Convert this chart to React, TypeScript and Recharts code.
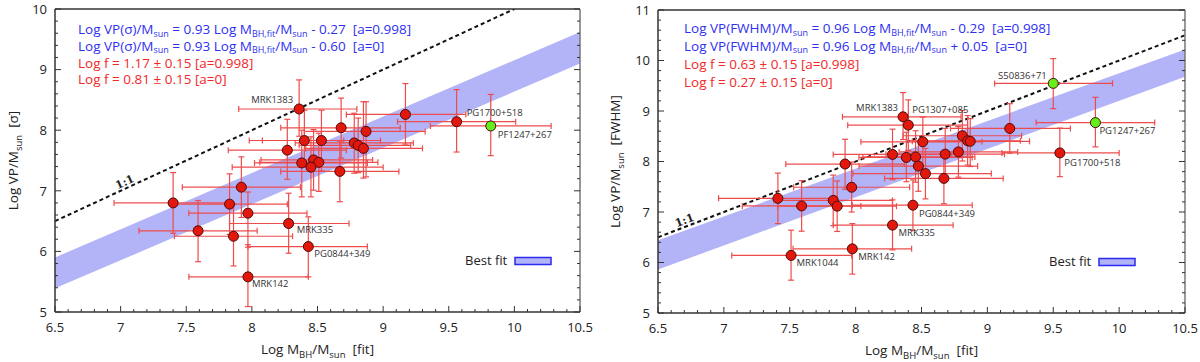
import React from "react";
import { Area, ComposedChart, ErrorBar, Line, ReferenceDot, Scatter, XAxis, YAxis } from "recharts";

type Pair = [number, number];

// ---- left panel: VP from sigma ----
const sigX = [8.36, 8.68, 8.87, 8.4, 8.53, 8.27, 8.78, 8.81, 8.85, 8.38, 8.47, 8.51, 8.45, 8.67, 7.92, 7.83, 7.97, 8.28, 9.17, 9.56, 9.82, 7.4, 7.59, 7.86, 7.97, 8.43];
const sigY = [8.35, 8.04, 7.98, 7.83, 7.83, 7.67, 7.79, 7.75, 7.7, 7.46, 7.51, 7.47, 7.39, 7.32, 7.06, 6.78, 6.63, 6.46, 8.26, 8.14, 8.07, 6.8, 6.34, 6.25, 5.58, 6.08];
const sigXErr: Pair[] = [
  [0.46, 0.44], [0.46, 0.45], [0.47, 0.45], [0.32, 0.3], [0.55, 0.45], [0.45, 0.45], [0.45, 0.45],
  [0.45, 0.4], [0.44, 0.45], [0.36, 0.5], [0.4, 0.45], [0.45, 0.45], [0.6, 0.55], [0.45, 0.45],
  [0.45, 0.45], [0.44, 0.44], [0.45, 0.45], [0.45, 0.46], [0.45, 0.46], [0.45, 0.45], [0.46, 0.46],
  [0.45, 0.45], [0.45, 0.45], [0.45, 0.45], [0.45, 0.46], [0.46, 0.45],
];
const sigYErr: Pair[] = [
  [0.45, 0.48], [0.5, 0.49], [0.75, 0.49], [0.35, 0.5], [0.5, 0.5], [0.48, 0.51], [0.5, 0.49],
  [0.45, 0.45], [0.49, 0.77], [0.56, 0.54], [0.5, 0.5], [0.48, 0.48], [0.49, 0.5], [0.5, 0.5],
  [0.5, 0.5], [0.5, 0.5], [0.56, 0.35], [0.49, 0.5], [0.49, 0.51], [0.5, 0.53], [0.49, 0.52],
  [0.5, 0.5], [0.51, 0.5], [0.49, 0.53], [0.49, 0.53], [0.5, 0.49],
];
const sigNames = [
  "MRK1383", "", "", "", "", "", "", "", "", "", "", "", "", "", "", "", "", "MRK335", "",
  "PG1700+518", "PF1247+267", "", "", "", "MRK142", "PG0844+349",
];
const sigGreen = ["PF1247+267"];
const sigBandX = [6.5, 10.5];
const sigBandLo = [5.39, 9.1];
const sigBandHi = [5.9, 9.62];
const sigOneX = [6.5, 10];

// ---- right panel: VP from FWHM ----
const fwhmX = [8.36, 8.4, 8.51, 8.81, 8.85, 8.87, 8.28, 8.385, 8.455, 8.476, 8.53, 8.68, 8.78, 8.67, 7.92, 7.97, 7.83, 7.86, 8.435, 8.28, 9.17, 9.55, 9.5, 9.82, 7.41, 7.59, 7.51, 7.975];
const fwhmY = [8.885, 8.72, 8.39, 8.51, 8.41, 8.4, 8.14, 8.08, 8.09, 7.91, 7.76, 8.146, 8.19, 7.665, 7.95, 7.49, 7.23, 7.115, 7.135, 6.74, 8.655, 8.17, 9.547, 8.77, 7.27, 7.12, 6.14, 6.27];
const fwhmXErr: Pair[] = [
  [0.46, 0.44], [0.46, 0.45], [0.47, 0.45], [0.45, 0.45], [0.45, 0.4], [0.44, 0.45], [0.45, 0.45],
  [0.36, 0.5], [0.4, 0.45], [0.45, 0.45], [0.55, 0.5], [0.45, 0.45], [0.45, 0.45], [0.45, 0.45],
  [0.45, 0.45], [0.44, 0.44], [0.45, 0.45], [0.45, 0.45], [0.46, 0.45], [0.45, 0.46], [0.45, 0.46],
  [0.44, 0.45], [0.445, 0.45], [0.45, 0.45], [0.45, 0.45], [0.45, 0.45], [0.45, 0.46], [0.45, 0.45],
];
const fwhmYErr: Pair[] = [
  [0.45, 0.48], [0.5, 0.5], [0.55, 0.49], [0.5, 0.5], [0.48, 0.5], [0.5, 0.45], [0.5, 0.5],
  [0.48, 0.5], [0.5, 0.52], [0.5, 0.5], [0.5, 0.5], [0.49, 0.51], [0.5, 0.5], [0.5, 0.5],
  [0.5, 0.49], [0.49, 0.5], [0.5, 0.5], [0.5, 0.5], [0.5, 0.5], [0.49, 0.5], [0.49, 0.49],
  [0.47, 0.49], [0.5, 0.49], [0.48, 0.5], [0.5, 0.5], [0.5, 0.5], [0.49, 0.5], [0.5, 0.5],
];
const fwhmNames = [
  "MRK1383", "PG1307+085", "", "", "", "", "", "", "", "", "", "", "", "", "", "", "", "",
  "PG0844+349", "MRK335", "", "PG1700+518", "S50836+71", "PG1247+267", "", "", "MRK1044", "MRK142",
];
const fwhmGreen = ["S50836+71", "PG1247+267"];
const fwhmBandX = [6.5, 10.5];
const fwhmBandLo = [5.86, 9.68];
const fwhmBandHi = [6.44, 10.22];
const fwhmOneX = [6.5, 10.5];

const xMajor = [6.5, 7, 7.5, 8, 8.5, 9, 9.5, 10, 10.5];
const sigYMajor = [5, 6, 7, 8, 9, 10];
const fwhmYMajor = [5, 6, 7, 8, 9, 10, 11];

type Part = [string, boolean];
type EqLine = { color: string; parts: Part[] };
const BLUE = "#2f2ff2";
const RED = "#f22828";

const sigEq: EqLine[] = [
  { color: BLUE, parts: [["Log VP(σ)/M", false], ["sun", true], [" = 0.93 Log M", false], ["BH,fit", true], ["/M", false], ["sun", true], [" - 0.27  [a=0.998]", false]] },
  { color: BLUE, parts: [["Log VP(σ)/M", false], ["sun", true], [" = 0.93 Log M", false], ["BH,fit", true], ["/M", false], ["sun", true], [" - 0.60  [a=0]", false]] },
  { color: RED, parts: [["Log f = 1.17 ± 0.15 [a=0.998]", false]] },
  { color: RED, parts: [["Log f = 0.81 ± 0.15 [a=0]", false]] },
];
const fwhmEq: EqLine[] = [
  { color: BLUE, parts: [["Log VP(FWHM)/M", false], ["sun", true], [" = 0.96 Log M", false], ["BH,fit", true], ["/M", false], ["sun", true], [" - 0.29  [a=0.998]", false]] },
  { color: BLUE, parts: [["Log VP(FWHM)/M", false], ["sun", true], [" = 0.96 Log M", false], ["BH,fit", true], ["/M", false], ["sun", true], [" + 0.05  [a=0]", false]] },
  { color: RED, parts: [["Log f = 0.63 ± 0.15 [a=0.998]", false]] },
  { color: RED, parts: [["Log f = 0.27 ± 0.15 [a=0]", false]] },
];

// label placement next to named points: dx, dy (baseline), anchor
type Place = Record<string, [number, number, "start" | "end"]>;
const sigPlace: Place = {
  MRK1383: [-6, -5.5, "end"],
  "PG1700+518": [10, -5.5, "start"],
  "PF1247+267": [7, 12.5, "start"],
  MRK335: [8, 9.5, "start"],
  "PG0844+349": [6, 10, "start"],
  MRK142: [4, 10.5, "start"],
};
const fwhmPlace: Place = {
  MRK1383: [-5, -6, "end"],
  "PG1307+085": [4, -12, "start"],
  "S50836+71": [-6.5, -4, "end"],
  "PG1247+267": [4, 11.5, "start"],
  "PG1700+518": [4.5, 13, "start"],
  "PG0844+349": [6, 12, "start"],
  MRK335: [6, 11, "start"],
  MRK142: [6, 11.5, "start"],
  MRK1044: [5.5, 10.2, "start"],
};

const FONT = "'Open Sans', 'DejaVu Sans', sans-serif";
const AXIS = "#333";
const BAR = "#ee4c4c";
const BAND = "#b3b3f8";

function steps(a: number, b: number, s: number) {
  const n = Math.round((b - a) / s);
  return Array.from({ length: n + 1 }, (_, i) => Math.round((a + i * s) * 100) / 100);
}
const isIn = (v: number, arr: number[]) => arr.some((m) => Math.abs(m - v) < 1e-6);

function richText(parts: Part[], base: number, sub: number, shift = 3) {
  let prev = false;
  return parts.map(([t, s], i) => {
    const dy = (s ? shift : 0) - (prev ? shift : 0);
    prev = s;
    return (
      <tspan key={i} dy={dy} fontSize={s ? sub : base}>
        {t}
      </tspan>
    );
  });
}

type PanelProps = {
  xs: number[]; ys: number[]; xErr: Pair[]; yErr: Pair[]; names: string[]; green: string[];
  bandX: number[]; bandLo: number[]; bandHi: number[]; oneX: number[];
  yDomain: [number, number]; yMajor: number[];
  eq: EqLine[]; eqDx: number; eqBase: number[]; yTitle: string; place: Place;
  onePos: [number, number]; oneAngle: number; legendDx: number;
  margin: { top: number; right: number; bottom: number; left: number };
  yAxisWidth: number; xAxisHeight: number; yTitleX: number;
};

function Panel(p: PanelProps) {
  const pts = p.xs.map((x, i) => ({ x, y: p.ys[i], ex: p.xErr[i], ey: p.yErr[i], name: p.names[i] }));
  const red = pts.filter((d) => !p.green.includes(d.name));
  const grn = pts.filter((d) => p.green.includes(d.name));
  const band = p.bandX.map((x, i) => ({ x, band: [p.bandLo[i], p.bandHi[i]] }));
  const one = p.oneX.map((x) => ({ x, y: x }));
  const xTicks = steps(6.5, 10.5, 0.1);
  const yTicks = steps(p.yDomain[0], p.yDomain[1], 0.2);
  const axisLine = { stroke: AXIS, strokeWidth: 1.5 };

  const dot = (fill: string) => (s: any) => {
    const { cx, cy, payload } = s;
    const pl = payload && payload.name ? p.place[payload.name] : null;
    return (
      <g>
        <circle cx={cx} cy={cy} r={5} fill={fill} stroke="#4a0c0c" strokeWidth={1} />
        {pl && (
          <text x={cx + pl[0]} y={cy + pl[1]} textAnchor={pl[2]} fontSize={9.5} fill="#333" fontFamily={FONT}>
            {payload.name}
          </text>
        )}
      </g>
    );
  };

  const bottomTick = (t: any) => {
    const major = isIn(t.payload.value, xMajor);
    return (
      <g>
        <line x1={t.x} x2={t.x} y1={t.y} y2={t.y - (major ? 6 : 3)} stroke={AXIS} />
        {major && (
          <text x={t.x} y={t.y + 20} textAnchor="middle" fontSize={13} fill="#222" fontFamily={FONT}>
            {t.payload.value}
          </text>
        )}
      </g>
    );
  };
  const topTick = (t: any) => {
    const major = isIn(t.payload.value, xMajor);
    return <line x1={t.x} x2={t.x} y1={t.y} y2={t.y + (major ? 6 : 3)} stroke={AXIS} />;
  };
  const leftTick = (t: any) => {
    const major = isIn(t.payload.value, p.yMajor);
    return (
      <g>
        <line x1={t.x} x2={t.x + (major ? 6 : 3)} y1={t.y} y2={t.y} stroke={AXIS} />
        {major && (
          <text x={t.x - 8} y={t.y + 4.7} textAnchor="end" fontSize={13} fill="#222" fontFamily={FONT}>
            {t.payload.value}
          </text>
        )}
      </g>
    );
  };
  const rightTick = (t: any) => {
    const major = isIn(t.payload.value, p.yMajor);
    return <line x1={t.x} x2={t.x - (major ? 6 : 3)} y1={t.y} y2={t.y} stroke={AXIS} />;
  };

  const overlay = (l: any) => {
    const vb = l.viewBox;
    const left = vb.x;
    const top = vb.y + vb.height;
    return (
      <g fontFamily={FONT}>
        {p.eq.map((ln, i) => (
          <text key={i} x={left + p.eqDx} y={top + p.eqBase[i]} fill={ln.color} fontSize={13.5} style={{ whiteSpace: "pre" }}>
            {richText(ln.parts, 13.5, 9, 2.5)}
          </text>
        ))}
        <text x={left + p.legendDx} y={top + 256} fontSize={13} fill="#222">
          Best fit
        </text>
        <rect x={left + p.legendDx + 50} y={top + 248.5} width={36} height={7} fill={BAND} stroke="#2a2af0" strokeWidth={1.5} />
      </g>
    );
  };
  const xTitle = (l: any) => {
    const vb = l.viewBox;
    return (
      <text x={vb.x + vb.width / 2} y={vb.y + 42} textAnchor="middle" fontSize={13.5} fill="#222" fontFamily={FONT} style={{ whiteSpace: "pre" }}>
        {richText([["Log M", false], ["BH", true], ["/M", false], ["sun", true], ["  [fit]", false]], 13.5, 9.5, 4)}
      </text>
    );
  };
  const yTitle = (l: any) => {
    const vb = l.viewBox;
    const cy = vb.y + vb.height / 2;
    return (
      <text x={p.yTitleX} y={cy} transform={`rotate(-90 ${p.yTitleX} ${cy})`} textAnchor="middle" fontSize={13.5} fill="#222" fontFamily={FONT} style={{ whiteSpace: "pre" }}>
        {richText([["Log VP/M", false], ["sun", true], [p.yTitle, false]], 13.5, 9.5, 4)}
      </text>
    );
  };
  const oneLabel = (l: any) => {
    const vb = l.viewBox;
    const cx = vb.x + vb.width / 2;
    const cy = vb.y + vb.height / 2;
    return (
      <text x={cx} y={cy} dy={4} transform={`rotate(${p.oneAngle} ${cx} ${cy})`} textAnchor="middle" fontSize={11} fontWeight="bold" fill="#222" fontFamily="'DejaVu Serif', serif">
        1:1
      </text>
    );
  };

  return (
    <ComposedChart width={600} height={362} margin={p.margin}>
      <XAxis dataKey="x" type="number" domain={[6.5, 10.5]} ticks={xTicks} interval={0} tick={bottomTick} tickSize={0} tickMargin={0} tickLine={false} axisLine={axisLine} height={p.xAxisHeight} allowDataOverflow label={xTitle} />
      <XAxis xAxisId="top" orientation="top" type="number" domain={[6.5, 10.5]} ticks={xTicks} interval={0} tick={topTick} tickSize={0} tickMargin={0} tickLine={false} axisLine={axisLine} height={1} allowDataOverflow label={overlay} />
      <YAxis type="number" domain={p.yDomain} ticks={yTicks} interval={0} tick={leftTick} tickSize={0} tickMargin={0} tickLine={false} axisLine={axisLine} width={p.yAxisWidth} allowDataOverflow label={yTitle} />
      <YAxis yAxisId="right" orientation="right" type="number" domain={p.yDomain} ticks={yTicks} interval={0} tick={rightTick} tickSize={0} tickMargin={0} tickLine={false} axisLine={{ stroke: "#777", strokeWidth: 1.5 }} width={1} allowDataOverflow />
      <Area data={band} dataKey="band" type="linear" stroke="none" fill={BAND} fillOpacity={1} isAnimationActive={false} />
      <Line data={one} dataKey="y" type="linear" stroke="#111" strokeWidth={2} strokeDasharray="4 3" dot={false} isAnimationActive={false} />
      <Scatter data={red} dataKey="y" shape={dot("#e3180c")} isAnimationActive={false}>
        <ErrorBar dataKey="ex" direction="x" width={3} stroke={BAR} strokeWidth={1.2} />
        <ErrorBar dataKey="ey" direction="y" width={3} stroke={BAR} strokeWidth={1.2} />
      </Scatter>
      <Scatter data={grn} dataKey="y" shape={dot("#66ee1a")} isAnimationActive={false}>
        <ErrorBar dataKey="ex" direction="x" width={3} stroke={BAR} strokeWidth={1.2} />
        <ErrorBar dataKey="ey" direction="y" width={3} stroke={BAR} strokeWidth={1.2} />
      </Scatter>
      <ReferenceDot x={p.onePos[0]} y={p.onePos[1]} r={1} fill="none" stroke="none" label={oneLabel} />
    </ComposedChart>
  );
}

export default function App() {
  return (
    <div style={{ position: "absolute", left: 0, top: 0, width: 1200, height: 362, background: "#fff", display: "flex" }}>
      <Panel
        xs={sigX} ys={sigY} xErr={sigXErr} yErr={sigYErr} names={sigNames} green={sigGreen}
        bandX={sigBandX} bandLo={sigBandLo} bandHi={sigBandHi} oneX={sigOneX}
        yDomain={[5, 10]} yMajor={sigYMajor} eq={sigEq} eqDx={23} eqBase={[25, 41.7, 58.5, 75.2]}
        yTitle="  [σ]" place={sigPlace} onePos={[7.03, 7.15]} oneAngle={-24.7} legendDx={410}
        margin={{ top: 8, right: 19, bottom: 0, left: 0 }} yAxisWidth={55} xAxisHeight={50} yTitleX={18}
      />
      <Panel
        xs={fwhmX} ys={fwhmY} xErr={fwhmXErr} yErr={fwhmYErr} names={fwhmNames} green={fwhmGreen}
        bandX={fwhmBandX} bandLo={fwhmBandLo} bandHi={fwhmBandHi} oneX={fwhmOneX}
        yDomain={[5, 11]} yMajor={fwhmYMajor} eq={fwhmEq} eqDx={26} eqBase={[23, 40.8, 58.8, 77]}
        yTitle="  [FWHM]" place={fwhmPlace} onePos={[6.7, 6.84]} oneAngle={-20.9} legendDx={391}
        margin={{ top: 9, right: 14, bottom: 0, left: 0 }} yAxisWidth={58} xAxisHeight={49} yTitleX={20}
      />
    </div>
  );
}
